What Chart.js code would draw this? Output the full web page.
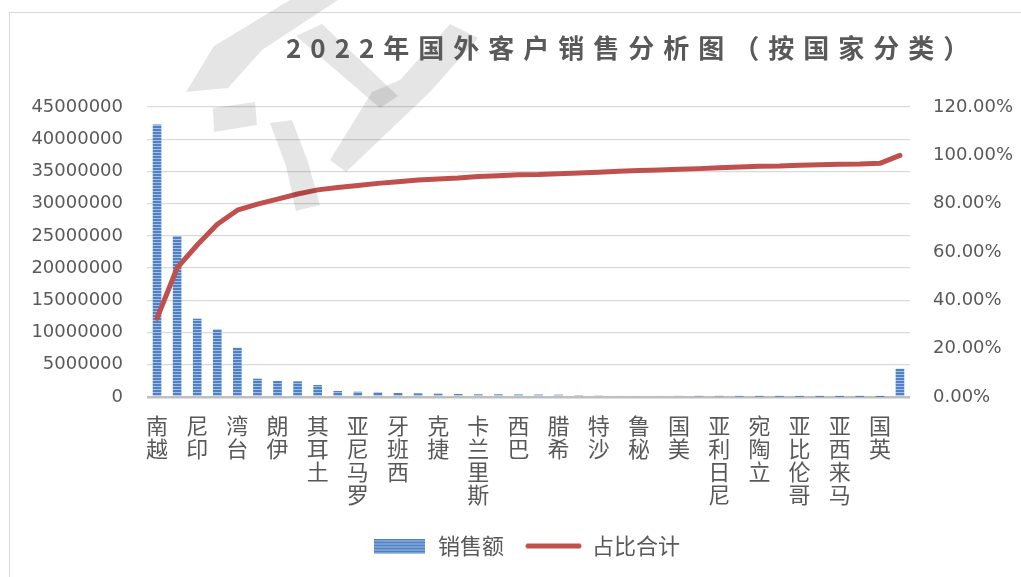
<!DOCTYPE html>
<html>
<head>
<meta charset="utf-8">
<script src="https://cdn.jsdelivr.net/npm/chart.js@4/dist/chart.umd.min.js"></script>
<style>
  html, body { margin: 0; padding: 0; background: #fff; }
  canvas { display: block; }
</style>
</head>
<body>
<canvas id="chart" width="1021" height="577"></canvas>
<script>
// Countries sorted by 2022 sales; unnamed slots are not labelled on the axis
const countries = ['越南', '', '印尼', '', '台湾', '', '伊朗', '', '土耳其', '',
  '罗马尼亚', '', '西班牙', '', '捷克', '', '斯里兰卡', '', '巴西', '',
  '希腊', '', '沙特', '', '秘鲁', '', '美国', '', '尼日利亚', '',
  '立陶宛', '', '哥伦比亚', '', '马来西亚', '', '英国', ''];

// 销售额 (yuan)
const sales = [42300000, 25000000, 12150000, 10500000, 7650000,
  2840000, 2480000, 2430000, 1860000, 930000,
  820000, 730000, 620000, 570000, 510000,
  470000, 420000, 420000, 400000, 380000,
  360000, 300000, 260000, 210000, 200000,
  180000, 150000, 110000, 100000, 60000,
  40000, 30000, 20000, 15000, 10000,
  8000, 5000, 4390000];

// 占比合计 (cumulative share)
const cumulativeShare = [0.326, 0.534, 0.629, 0.715, 0.773,
  0.798, 0.819, 0.840, 0.857, 0.867,
  0.875, 0.884, 0.891, 0.898, 0.902,
  0.906, 0.912, 0.916, 0.920, 0.921,
  0.924, 0.927, 0.930, 0.934, 0.937,
  0.939, 0.942, 0.945, 0.949, 0.952,
  0.955, 0.956, 0.959, 0.961, 0.963,
  0.964, 0.967, 1.000];

const salesTicks = [0, 5000000, 10000000, 15000000, 20000000, 25000000,
  30000000, 35000000, 40000000, 45000000];
const shareTicks = [0, 0.2, 0.4, 0.6, 0.8, 1.0, 1.2];

const TEXT = '#595959';
const BLUE = '#4f81c4';
const BLUE_LIGHT = '#a3bfe4';
const RED = '#c0504d';
const CJK = '"Noto Sans CJK SC", "Noto Sans", sans-serif';

// horizontal stripe fill used by the bars
function makeStripes() {
  const tile = document.createElement('canvas');
  tile.width = 4; tile.height = 3;
  const g = tile.getContext('2d');
  g.fillStyle = BLUE; g.fillRect(0, 0, 4, 3);
  g.fillStyle = BLUE_LIGHT; g.fillRect(0, 2, 4, 1);
  return g.createPattern(tile, 'repeat');
}
const stripes = makeStripes();

// legend swatches
function barSwatch() {
  const c = document.createElement('canvas');
  c.width = 51; c.height = 15;
  const g = c.getContext('2d');
  g.fillStyle = BLUE; g.fillRect(0, 0, 51, 15);
  g.fillStyle = BLUE_LIGHT;
  for (let y = 2; y < 15; y += 3) g.fillRect(0, y, 51, 1);
  return c;
}
function lineSwatch() {
  const c = document.createElement('canvas');
  c.width = 57; c.height = 7;
  const g = c.getContext('2d');
  g.strokeStyle = RED; g.lineWidth = 5; g.lineCap = 'round';
  g.beginPath(); g.moveTo(3, 3.5); g.lineTo(54, 3.5); g.stroke();
  return c;
}

// faint background stamp strokes
const stampStrokes = [
  [[290, 0], [338, 0], [262, 50], [228, 88], [186, 92], [214, 46]],
  [[213, 108], [255, 102], [257, 125], [214, 132]],
  [[270, 123], [292, 120], [308, 162], [320, 205], [296, 211], [286, 166]],
  [[330, 160], [346, 172], [430, 92], [478, 38], [450, 24], [400, 80], [372, 92]],
  [[296, 36], [322, 24], [398, 96], [380, 108]]
];

const decorations = {
  id: 'decorations',
  beforeDraw(chart) {
    const ctx = chart.ctx;
    ctx.save();
    ctx.fillStyle = '#ffffff';
    ctx.fillRect(0, 0, chart.width, chart.height);
    ctx.strokeStyle = '#d9d9d9';
    ctx.lineWidth = 1;
    ctx.strokeRect(9.5, 12.5, chart.width + 10, chart.height + 10);
    ctx.restore();
  },
  afterDraw(chart) {
    const ctx = chart.ctx;
    ctx.save();
    ctx.fillStyle = 'rgba(0,0,0,0.1)';
    stampStrokes.forEach(poly => {
      ctx.beginPath();
      poly.forEach(([x, y], i) => i ? ctx.lineTo(x, y) : ctx.moveTo(x, y));
      ctx.closePath();
      ctx.fill();
    });
    ctx.fillStyle = TEXT;
    ctx.font = 'bold 26px ' + CJK;
    ctx.textBaseline = 'middle';
    ctx.textAlign = 'left';
    ctx.letterSpacing = '9px';
    ctx.fillText('2022年国外客户销售分析图（按国家分类）', 286, 48);
    ctx.restore();
  }
};

new Chart(document.getElementById('chart'), {
  type: 'bar',
  data: {
    labels: countries,
    datasets: [
      {
        type: 'line',
        label: '占比合计',
        data: cumulativeShare,
        yAxisID: 'y1',
        borderColor: RED,
        backgroundColor: RED,
        borderWidth: 5,
        borderCapStyle: 'round',
        borderJoinStyle: 'round',
        pointRadius: 0,
        tension: 0,
        order: 0
      },
      {
        type: 'bar',
        label: '销售额',
        data: sales,
        yAxisID: 'y',
        backgroundColor: stripes,
        borderWidth: 0,
        barPercentage: 0.43,
        categoryPercentage: 1,
        order: 1
      }
    ]
  },
  options: {
    responsive: false,
    animation: false,
    layout: { padding: { left: 31, right: 0, top: 107, bottom: 10 } },
    plugins: {
      tooltip: { enabled: false },
      legend: {
        position: 'bottom',
        labels: {
          usePointStyle: true,
          pointStyleWidth: 55,
          padding: 22,
          color: TEXT,
          font: { family: CJK, size: 22 },
          generateLabels: () => [
            { text: '销售额', pointStyle: barSwatch(), fontColor: TEXT, datasetIndex: 1, hidden: false, lineWidth: 0, strokeStyle: 'rgba(0,0,0,0)', fillStyle: BLUE },
            { text: '占比合计', pointStyle: lineSwatch(), fontColor: TEXT, datasetIndex: 0, hidden: false, lineWidth: 0, strokeStyle: 'rgba(0,0,0,0)', fillStyle: RED }
          ]
        }
      }
    },
    scales: {
      x: {
        offset: true,
        grid: { display: false, drawTicks: false },
        border: { display: false },
        ticks: {
          autoSkip: false,
          maxRotation: 0,
          minRotation: 0,
          padding: 17,
          color: TEXT,
          font: { family: CJK, size: 22, lineHeight: 1.05 },
          // characters stacked upright, reading from the bottom up
          callback: (v, i) => countries[i] ? Array.from(countries[i]).reverse() : ''
        },
        afterFit(scale) { scale.height = 116; }
      },
      y: {
        position: 'left',
        min: 0,
        max: 45000000,
        afterBuildTicks(scale) { scale.ticks = salesTicks.map(v => ({ value: v })); },
        grid: {
          drawTicks: false,
          color: c => (c.tick && c.tick.value === 0) ? '#bfbfbf' : '#d9d9d9',
          lineWidth: c => (c.tick && c.tick.value === 0) ? 2.5 : 1.3
        },
        border: { display: false },
        ticks: {
          padding: 24,
          color: TEXT,
          font: { family: '"DejaVu Sans", sans-serif', size: 18 },
          callback: v => String(v)
        },
        afterFit(scale) { scale.width = 116; }
      },
      y1: {
        position: 'right',
        min: 0,
        max: 1.2,
        afterBuildTicks(scale) { scale.ticks = shareTicks.map(v => ({ value: v })); },
        grid: { display: false, drawTicks: false },
        border: { display: false },
        ticks: {
          padding: 23,
          color: TEXT,
          font: { family: '"DejaVu Sans", sans-serif', size: 18 },
          callback: v => (v * 100).toFixed(2) + '%'
        },
        afterFit(scale) { scale.width = 111; }
      }
    }
  },
  plugins: [decorations]
});
</script>
</body>
</html>
